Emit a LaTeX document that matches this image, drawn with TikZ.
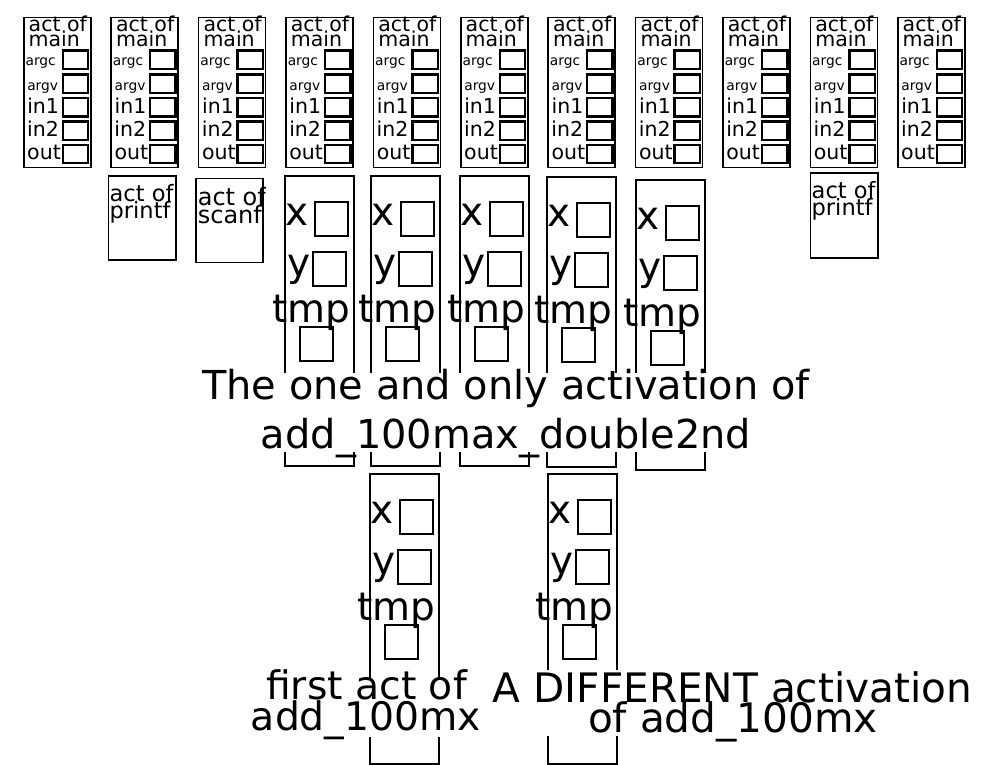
\documentclass[tikz,border=0pt]{standalone}
\usepackage{fontspec}
\setmainfont{DejaVu Sans}
\newcommand\fs[2]{\fontsize{#1}{#2}\selectfont}
\tikzset{
  frm/.style={draw=black, line width=1.5pt, inner sep=0pt, anchor=north west},
  cell/.style={draw=black, line width=2.4pt, inner sep=0pt, anchor=north west, minimum width=25.5pt, minimum height=18.5pt},
  vcell/.style={draw=black, line width=2.2pt, inner sep=0pt, anchor=north west, minimum width=33pt, minimum height=34pt},
  txt/.style={inner sep=0pt, anchor=base west},
  rtxt/.style={inner sep=0pt, anchor=base east},
  ctxt/.style={inner sep=0pt, anchor=base},
  masknode/.style={fill=white, inner sep=0pt, anchor=north west},
  mainhead/.style={txt, font=\fs{20.5}{15}},
  smalllbl/.style={rtxt, font=\fs{13.8}{14}},
  midlbl/.style={rtxt, font=\fs{20.5}{20}},
  biglbl/.style={font=\fs{39}{39}},
}
\newcommand\MainAct[2]{%
  \node[frm, minimum width=67pt, minimum height=149.5pt] (#1) at (#2,17) {};
  \node[mainhead] (#1-h1) at (#2+5.5,32) {act of};
  \node[mainhead] (#1-h2) at (#2+5.5,47) {main};
  \node[smalllbl] (#1-l1) at (#2+33,66) {argc};
  \node[smalllbl] (#1-l2) at (#2+35.3,91) {argv};
  \node[midlbl] (#1-l3) at (#2+36.2,113.5) {in1};
  \node[midlbl] (#1-l4) at (#2+36,136.5) {in2};
  \node[midlbl] (#1-l5) at (#2+38,159.5) {out};
  \node[cell] (#1-c1) at (#2+38.5,49.5) {};
  \node[cell] (#1-c2) at (#2+38.5,73.5) {};
  \node[cell] (#1-c3) at (#2+38.5,97) {};
  \node[cell] (#1-c4) at (#2+38.5,120.5) {};
  \node[cell] (#1-c5) at (#2+38.5,143.5) {};
}
\newcommand\AddAct[3]{%
  \node[frm, minimum width=69pt, minimum height=290pt] (#1) at (#2,#3) {};
  \node[txt, biglbl] (#1-xl) at (#2+1.2,#3+50) {x};
  \node[vcell] (#1-x) at (#2+30,#3+26) {};
  \node[txt, biglbl] (#1-yl) at (#2+2.8,#3+101) {y};
  \node[vcell] (#1-y) at (#2+28,#3+76) {};
  \node[ctxt, biglbl] (#1-tl) at (#2+27.5,#3+147) {tmp};
  \node[vcell] (#1-t) at (#2+15,#3+151) {};
}
\begin{document}
\begin{tikzpicture}[x=1pt,y=-1pt]
\useasboundingbox (0,0) rectangle (990,765);
% activations of main
\MainAct{m1}{23}
\MainAct{m2}{110.4}
\MainAct{m3}{197.8}
\MainAct{m4}{285.2}
\MainAct{m5}{372.6}
\MainAct{m6}{460}
\MainAct{m7}{547.4}
\MainAct{m8}{634.8}
\MainAct{m9}{722.2}
\MainAct{m10}{809.6}
\MainAct{m11}{897}
% printf / scanf
\node[frm, minimum width=67.5pt, minimum height=84pt] (pf1) at (107.5,175) {};
\node[txt, font=\fs{22.5}{16}] (pf1-a) at (109.5,201.7) {act of};
\node[txt, font=\fs{22.5}{16}] (pf1-b) at (109.5,218) {printf};
\node[frm, minimum width=67pt, minimum height=84pt] (sf1) at (195,177.5) {};
\node[txt, font=\fs{24}{18}] (sf1-a) at (197.6,205) {act of};
\node[txt, font=\fs{24}{18}] (sf1-b) at (197.6,223) {scanf};
\node[frm, minimum width=67.5pt, minimum height=85pt] (pf2) at (809.5,172) {};
\node[txt, font=\fs{22.5}{16}] (pf2-a) at (811.5,198.5) {act of};
\node[txt, font=\fs{22.5}{16}] (pf2-b) at (811.5,215) {printf};
% activations of add_100max_double2nd
\AddAct{d1}{284}{175}
\AddAct{d2}{370}{175}
\AddAct{d3}{459}{175}
\AddAct{d4}{546}{176}
\AddAct{d5}{635}{179}
% activations of add_100mx
\AddAct{f1}{369}{473}
\AddAct{g1}{547}{473}
% captions
\node[masknode, minimum width=612pt, minimum height=79pt] (midmask) at (200,373) {};
\node[ctxt, font=\fs{39.9}{49}] (mid1) at (506,399) {The one and only activation of};
\node[ctxt, font=\fs{39.9}{49}] (mid2) at (506,448) {add\_100max\_double2nd};
\node[masknode, minimum width=233pt, minimum height=59pt] (fmask) at (250,678) {};
\node[ctxt, font=\fs{39.3}{31}] (fcap1) at (366.5,699) {first act of};
\node[ctxt, font=\fs{39.3}{31}] (fcap2) at (366,730) {add\_100mx};
\node[masknode, minimum width=486pt, minimum height=66pt] (gmask) at (490,670) {};
\node[ctxt, font=\fs{40.6}{31}] (gcap1) at (732.5,702) {A DIFFERENT activation};
\node[ctxt, font=\fs{40.6}{31}] (gcap2) at (733,732) {of add\_100mx};
\end{tikzpicture}
\end{document}
